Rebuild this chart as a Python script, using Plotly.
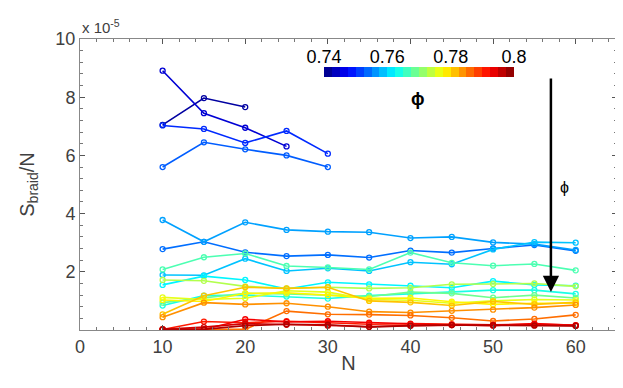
import plotly.graph_objects as go

# ======================================================
# Data (S_braid/N in units of 1e-5)
# ======================================================
N = [10, 15, 20, 25, 30, 35, 40, 45, 50, 55, 60]

PHI = [0.742, 0.745, 0.750, 0.753, 0.754, 0.757, 0.759, 0.762, 0.764,
       0.767, 0.769, 0.773, 0.776, 0.778, 0.781, 0.784, 0.786,
       0.791, 0.793, 0.795, 0.797]

s_742 = [7.05, 7.97, 7.66]
s_745 = [8.91, 7.45, 6.95, 6.31]
s_750 = [7.03, 6.91, 6.43, 6.84, 6.06]
s_753 = [5.60, 6.45, 6.21, 6.00, 5.60]
s_754 = [2.78, 3.03, 2.67, 2.54, 2.58, 2.49, 2.73, 2.66, 2.80, 2.92, 2.72]
s_757 = [3.78, 3.03, 3.70, 3.44, 3.38, 3.36, 3.16, 3.20, 3.01, 2.95, 2.75]
s_759 = [1.89, 1.88, 2.45, 2.03, 2.12, 2.03, 2.33, 2.26, 2.77, 3.02, 3.00]
s_762 = [1.55, 1.85, 1.72, 1.41, 1.64, 1.57, 1.52, 1.45, 1.68, 1.55, 1.52]
s_764 = [0.84, 1.18, 1.20, 1.15, 1.08, 1.18, 1.25, 1.32, 1.37, 1.37, 1.24]
s_767 = [2.08, 2.50, 2.63, 2.20, 2.15, 2.08, 2.66, 2.31, 2.21, 2.27, 2.05]
s_769 = [0.94, 1.10, 1.26, 1.24, 1.20, 1.15, 1.30, 1.26, 1.11, 1.20, 1.10]
s_773 = [1.72, 1.69, 1.50, 1.43, 1.47, 1.43, 1.45, 1.57, 1.58, 1.60, 1.50]
s_776 = [1.12, 1.05, 1.09, 1.35, 1.30, 1.05, 1.02, 0.92, 1.00, 1.05, 1.03]
s_778 = [1.03, 0.98, 1.26, 1.28, 1.20, 1.09, 1.10, 0.97, 0.88, 0.92, 0.92]
s_781 = [0.54, 1.18, 1.47, 1.43, 1.47, 1.00, 0.95, 0.84, 0.98, 0.88, 0.95]
s_784 = [0.44, 0.94, 0.88, 0.92, 0.80, 0.63, 0.60, 0.66, 0.70, 0.77, 0.86]
s_786 = [0.02, 0.02, 0.02, 0.65, 0.54, 0.53, 0.50, 0.42, 0.31, 0.38, 0.52]
s_791 = [0.02, 0.29, 0.25, 0.30, 0.25, 0.20, 0.22, 0.20, 0.18, 0.20, 0.17]
s_793 = [0.02, 0.02, 0.37, 0.28, 0.30, 0.25, 0.20, 0.17, 0.15, 0.22, 0.16]
s_795 = [0.02, 0.10, 0.22, 0.18, 0.15, 0.12, 0.15, 0.17, 0.17, 0.17, 0.15]
s_797 = [0.02, 0.02, 0.15, 0.20, 0.18, 0.10, 0.15, 0.17, 0.16, 0.15, 0.14]

SERIES = [s_742, s_745, s_750, s_753, s_754, s_757, s_759, s_762, s_764,
          s_767, s_769, s_773, s_776, s_778, s_781, s_784, s_786,
          s_791, s_793, s_795, s_797]

CB_TICKS = [0.74, 0.76, 0.78, 0.80]
CB_TEXT = ["0.74", "0.76", "0.78", "0.8"]
PHI_MIN, PHI_MAX = 0.74, 0.80


# ------------------------------------------------------
# MATLAB-like jet colormap
# ------------------------------------------------------
def jet(t):
    c = lambda v: max(0.0, min(1.0, v))
    r = c(1.5 - abs(4 * t - 3))
    g = c(1.5 - abs(4 * t - 2))
    b = c(1.5 - abs(4 * t - 1))
    return f"rgb({int(r*255)},{int(g*255)},{int(b*255)})"


def phi_color(p):
    return jet((p - PHI_MIN) / (PHI_MAX - PHI_MIN))


# discrete 24-step colorscale for the colorbar
NBINS = 24
cscale = []
for i in range(NBINS):
    col = jet((i + 0.5) / NBINS)
    cscale.append([i / NBINS, col])
    cscale.append([(i + 1) / NBINS, col])

FONT = "Liberation Sans, Arial, sans-serif"
AX_COL = "#404040"

# plot-area fractions of the colorbar (left edge, length, bottom)
CB_X, CB_LEN, CB_Y = 0.4544, 0.3538, 0.869

# ======================================================
# Build figure
# ======================================================
fig = go.Figure()

for p, s in zip(PHI, SERIES):
    col = phi_color(p)
    fig.add_trace(go.Scatter(
        x=N[:len(s)], y=s, mode="lines+markers",
        line=dict(color=col, width=1.6),
        marker=dict(symbol="circle-open", size=5, color=col,
                    line=dict(width=1.3, color=col)),
        showlegend=False,
        hovertemplate=f"ϕ={p:.3f}<br>N=%{{x}}<br>%{{y:.2f}}e-5<extra></extra>",
    ))

# colorbar holder on a free axis that also carries the colorbar tick labels
fig.add_trace(go.Scatter(
    x=[PHI_MIN, PHI_MAX], y=[None, None], xaxis="x2", yaxis="y",
    mode="markers",
    marker=dict(color=[PHI_MIN, PHI_MAX], colorscale=cscale,
                cmin=PHI_MIN, cmax=PHI_MAX, showscale=True, size=0.1,
                colorbar=dict(orientation="h", x=CB_X, xanchor="left",
                              y=CB_Y, yanchor="bottom", len=CB_LEN,
                              lenmode="fraction", thickness=10,
                              xpad=0, ypad=0,
                              outlinewidth=0, showticklabels=False,
                              ticks="")),
    hoverinfo="skip", showlegend=False,
))

# arrow showing increasing phi
fig.add_annotation(x=57, y=1.31, ax=57, ay=8.69, xref="x", yref="y",
                   axref="x", ayref="y", text="", showarrow=True,
                   arrowhead=2, arrowsize=1.3, arrowwidth=2.5,
                   arrowcolor="black")
fig.add_annotation(x=58.6, y=4.88, text="ϕ", showarrow=False,
                   font=dict(size=16, color="black", family=FONT))
fig.add_annotation(x=40.9, y=7.95, text="<b>ϕ</b>", showarrow=False,
                   font=dict(size=18, color="black", family=FONT))
fig.add_annotation(x=0, y=1.0, xref="paper", yref="paper",
                   xanchor="left", yanchor="bottom", yshift=1,
                   text="x 10<sup>-5</sup>", showarrow=False,
                   font=dict(size=15, color=AX_COL, family=FONT))

# ======================================================
# Layout
# (the page body adds an 8 px offset, so the figure is 8 px smaller
#  and the left/top margins 8 px narrower)
# ======================================================
axis_common = dict(
    showgrid=False, zeroline=False, showline=True, linecolor="#888888",
    linewidth=1, mirror="ticks", ticks="inside", ticklen=5,
    tickcolor="#555555", tickfont=dict(size=18, color=AX_COL, family=FONT),
    automargin=False,
)

fig.update_layout(
    width=615, height=380,
    margin=dict(l=72, r=6, t=31, b=58),
    plot_bgcolor="rgba(0,0,0,0)", paper_bgcolor="white",
    font=dict(family=FONT, color=AX_COL),
    xaxis=dict(
        range=[0, 65], tickmode="array", tickvals=[0, 10, 20, 30, 40, 50, 60],
        minor=dict(dtick=2, tick0=0, ticks="inside", ticklen=3,
                   tickcolor="#777777"),
        title=dict(text="N", font=dict(size=20, color=AX_COL), standoff=0),
        **axis_common,
    ),
    yaxis=dict(
        range=[0, 10], tickmode="array", tickvals=[2, 4, 6, 8, 10],
        minor=dict(dtick=0.4, tick0=0, ticks="inside", ticklen=3,
                   tickcolor="#777777"),
        title=dict(text="S<sub>braid</sub>/N",
                   font=dict(size=20, color=AX_COL), standoff=15),
        **axis_common,
    ),
    xaxis2=dict(
        domain=[CB_X, CB_X + CB_LEN], anchor="free", position=0.905,
        side="top", range=[PHI_MIN, PHI_MAX],
        tickmode="array", tickvals=CB_TICKS, ticktext=CB_TEXT,
        showline=False, showgrid=False, zeroline=False, ticks="",
        tickfont=dict(size=18, color="black", family=FONT),
        automargin=False,
    ),
    showlegend=False,
)

fig.write_html("out.html")
